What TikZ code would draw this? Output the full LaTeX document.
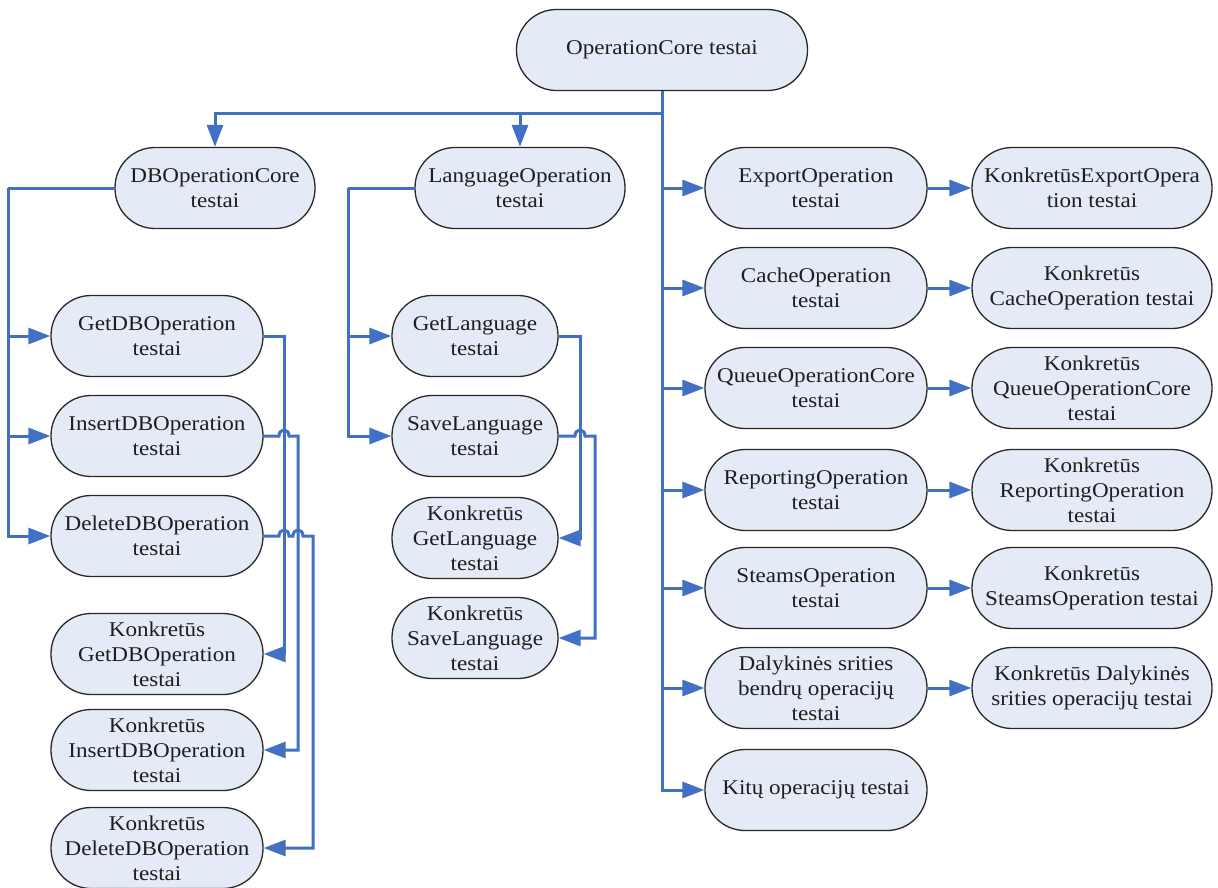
\documentclass[tikz,border=0pt]{standalone}
\usepackage{fontspec}
\setmainfont[FakeStretch=1.1]{Liberation Serif}
\usetikzlibrary{arrows.meta}
\definecolor{linkblue}{RGB}{66,112,196}
\definecolor{boxfill}{RGB}{229,235,246}
\definecolor{boxline}{RGB}{40,40,40}
\definecolor{inkgrey}{RGB}{30,30,30}
\tikzset{
  box/.style={draw=boxline, line width=1.3pt, fill=boxfill, rounded corners=40pt,
    minimum height=81pt, align=center, text=inkgrey,
    font=\fontsize{21}{25}\selectfont, inner sep=2pt},
  dbcol/.style={box, minimum width=212pt},
  langcol/.style={box, minimum width=166pt},
  opcol/.style={box, minimum width=222pt},
  kcol/.style={box, minimum width=240pt},
  wire/.style={draw=linkblue, line width=3pt},
  conn/.style={wire, -{Triangle[length=22pt,width=16pt]}},
}
\begin{document}
\begin{tikzpicture}[x=1pt, y=-1pt]
\fill[white] (0,0) rectangle (1218,887);
\useasboundingbox (0,0) rectangle (1218,887);

% root and first level
\node[box, minimum width=291pt] (root) at (662,50) {OperationCore testai};
\node[box, minimum width=200pt] (db) at (215,188) {DBOperationCore\\testai};
\node[box, minimum width=210pt] (lang) at (520,188) {LanguageOperation\\testai};

% database operations
\node[dbcol] (getdb) at (157,336) {GetDBOperation\\testai};
\node[dbcol] (insdb) at (157,436) {InsertDBOperation\\testai};
\node[dbcol] (deldb) at (157,536) {DeleteDBOperation\\testai};
\node[dbcol] (kgetdb) at (157,654) {Konkretūs\\GetDBOperation\\testai};
\node[dbcol] (kinsdb) at (157,750) {Konkretūs\\InsertDBOperation\\testai};
\node[dbcol] (kdeldb) at (157,848) {Konkretūs\\DeleteDBOperation\\testai};

% language operations
\node[langcol] (getl) at (475,336) {GetLanguage\\testai};
\node[langcol] (savel) at (475,436) {SaveLanguage\\testai};
\node[langcol] (kgetl) at (475,538) {Konkretūs\\GetLanguage\\testai};
\node[langcol] (ksavel) at (475,638) {Konkretūs\\SaveLanguage\\testai};

% other operation groups
\node[opcol] (export) at (816,188) {ExportOperation\\testai};
\node[opcol] (cache) at (816,288) {CacheOperation\\testai};
\node[opcol] (queue) at (816,388) {QueueOperationCore\\testai};
\node[opcol] (report) at (816,490) {ReportingOperation\\testai};
\node[opcol] (steams) at (816,588) {SteamsOperation\\testai};
\node[opcol] (daly) at (816,688) {Dalykinės srities\\bendrų operacijų\\testai};
\node[opcol] (kitu) at (816,790) {Kitų operacijų testai};

\node[kcol] (kexport) at (1092,188) {KonkretūsExportOpera\\tion testai};
\node[kcol] (kcache) at (1092,288) {Konkretūs\\CacheOperation testai};
\node[kcol] (kqueue) at (1092,388) {Konkretūs\\QueueOperationCore\\testai};
\node[kcol] (kreport) at (1092,490) {Konkretūs\\ReportingOperation\\testai};
\node[kcol] (ksteams) at (1092,588) {Konkretūs\\SteamsOperation testai};
\node[kcol] (kdaly) at (1092,688) {Konkretūs Dalykinės\\srities operacijų testai};

% bus junctions
\coordinate (bus) at (662,113);
\coordinate (dbbus) at (8,188);
\coordinate (langbus) at (348,188);

% root connectors
\draw[conn] (root.south) -- (bus) -| (db.north);
\draw[conn] (bus) -| (lang.north);
\foreach \n in {export,cache,queue,report,steams,daly,kitu}
  \draw[conn] (root.south) |- (\n.west);
\foreach \a/\b in {export/kexport,cache/kcache,queue/kqueue,report/kreport,steams/ksteams,daly/kdaly}
  \draw[conn] (\a) -- (\b);

% database branch
\draw[wire] (db.west) -- (dbbus);
\foreach \n in {getdb,insdb,deldb}
  \draw[conn] (dbbus) |- (\n.west);
\draw[conn] (getdb.east) -- (284,336) |- (kgetdb.east);
\draw[conn] (insdb.east) -- (279,436) .. controls (279,428) and (289,428) .. (289,436)
  -- (298,436) |- (kinsdb.east);
\draw[conn] (deldb.east) -- (279,536) .. controls (279,528) and (289,528) .. (289,536)
  -- (293,536) .. controls (293,528) and (303,528) .. (303,536)
  -- (313,536) |- (kdeldb.east);

% language branch
\draw[wire] (lang.west) -- (langbus);
\foreach \n in {getl,savel}
  \draw[conn] (langbus) |- (\n.west);
\draw[conn] (getl.east) -- (580,336) |- (kgetl.east);
\draw[conn] (savel.east) -- (575,436) .. controls (575,428) and (585,428) .. (585,436)
  -- (595,436) |- (ksavel.east);
\end{tikzpicture}
\end{document}
